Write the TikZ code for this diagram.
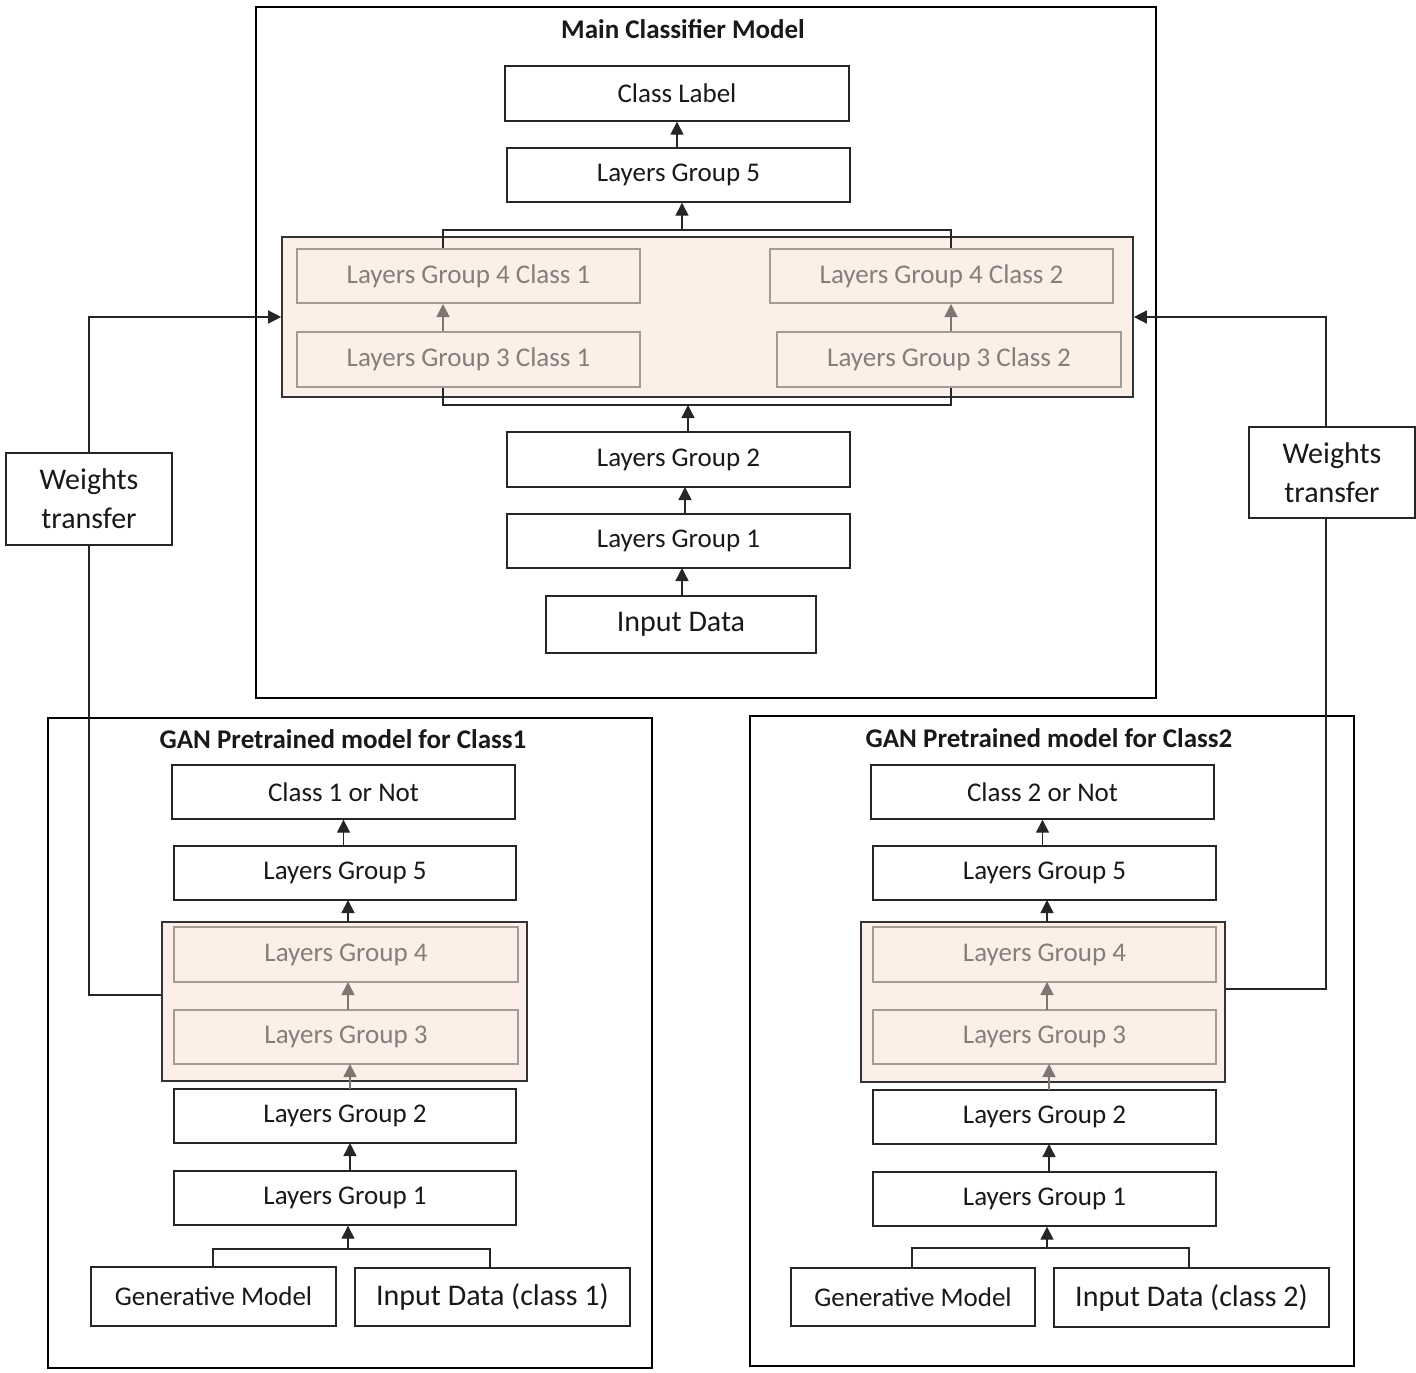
\documentclass[tikz,border=0pt]{standalone}
\usepackage{fontspec}
\setmainfont{Carlito}
\usetikzlibrary{arrows.meta,calc}
\definecolor{shade}{HTML}{FBEFE7}
\definecolor{grayline}{HTML}{A39B95}
\definecolor{graytext}{HTML}{857F7A}
\definecolor{grayarrow}{HTML}{7D7671}
\begin{document}
\begin{tikzpicture}[x=1pt,y=-1pt,
  frame/.style={draw=black,line width=2.4pt,inner sep=0pt},
  box/.style={draw=black!85,line width=1.4pt,fill=white,inner sep=0pt,font=\fontsize{27}{31}\selectfont,text=black!90},
  gbox/.style={draw=grayline,line width=2pt,fill=shade,inner sep=0pt,font=\fontsize{27}{31}\selectfont,text=graytext},
  shadebox/.style={draw=black!80,line width=1.6pt,fill=shade,inner sep=0pt},
  title/.style={font=\fontsize{27}{31}\selectfont\bfseries,text=black!90},
  bigtext/.style={font=\fontsize{30}{34}\selectfont},
  wbox/.style={draw=black!85,line width=1.4pt,fill=white,inner sep=0pt,align=center,font=\fontsize{30}{39}\selectfont,text=black!90},
  conn/.style={draw=black!85,line width=1.4pt},
  arr/.style={conn,-{Triangle[length=13pt,width=13pt]}},
  garr/.style={draw=grayarrow,line width=1.6pt,-{Triangle[length=13pt,width=13pt]}}
]
\useasboundingbox (0,0) rectangle (1416,1373);

% ---------------- Main classifier ----------------
\node[frame,minimum width=900,minimum height=691] (mainbox) at (706,352.5) {};
\node[title] (maintitle) at (683,29) {Main Classifier Model};
\node[box,minimum width=344,minimum height=55] (mcl) at (677,93.5) {Class Label};
\node[box,minimum width=343,minimum height=54] (mlg5) at (678.5,175) {Layers Group 5};
\node[shadebox,minimum width=851,minimum height=160] (mshade) at (707.5,317) {};
% brackets
\coordinate (mbt1) at (443,249);
\coordinate (mbt2) at (951,249);
\coordinate (mbtm) at (682,230);
\coordinate (mbb1) at (443,387);
\coordinate (mbb2) at (951,387);
\coordinate (mbbm) at (688,405);
\draw[conn] (mbt1) |- (mbtm) -| (mbt2);
\draw[conn] (mbb1) |- (mbbm) -| (mbb2);
\node[gbox,minimum width=343,minimum height=54] (m4c1) at (468.5,276) {Layers Group 4 Class 1};
\node[gbox,minimum width=343,minimum height=55] (m3c1) at (468.5,359.5) {Layers Group 3 Class 1};
\node[gbox,minimum width=343,minimum height=54] (m4c2) at (941.5,276) {Layers Group 4 Class 2};
\node[gbox,minimum width=344,minimum height=55] (m3c2) at (949,359.5) {Layers Group 3 Class 2};
\node[box,minimum width=343,minimum height=55] (mlg2) at (678.5,459.5) {Layers Group 2};
\node[box,minimum width=343,minimum height=54] (mlg1) at (678.5,541) {Layers Group 1};
\node[box,bigtext,minimum width=270,minimum height=57] (min) at (681,624.5) {Input Data};

\draw[arr] (mlg5.north -| mcl) -- (mcl.south);
\draw[arr] (mbtm) -- (mbtm |- mlg5.south);
\draw[garr] (mbt1 |- m3c1.north) -- (mbt1 |- m4c1.south);
\draw[garr] (mbt2 |- m3c2.north) -- (mbt2 |- m4c2.south);
\draw[arr] (mbbm |- mlg2.north) -- (mbbm);
\draw[arr] (685,514) -- (685,487);
\draw[arr] (682,596) -- (682,568);

% ---------------- GAN class 1 ----------------
\node[frame,minimum width=604,minimum height=650] (g1box) at (350,1043) {};
\node[title] (g1title) at (343,739) {GAN Pretrained model for Class1};
\node[box,minimum width=343,minimum height=54] (g1out) at (343.5,792) {Class 1 or Not};
\node[box,minimum width=342,minimum height=54] (g1lg5) at (345,873) {Layers Group 5};
\node[shadebox,minimum width=365,minimum height=159] (g1shade) at (344.5,1001.5) {};
\node[gbox,minimum width=344,minimum height=55] (g1lg4) at (346,954.5) {Layers Group 4};
\node[gbox,minimum width=344,minimum height=54] (g1lg3) at (346,1037) {Layers Group 3};
\node[box,minimum width=342,minimum height=54] (g1lg2) at (345,1116) {Layers Group 2};
\node[box,minimum width=342,minimum height=54] (g1lg1) at (345,1198) {Layers Group 1};
\node[box,minimum width=245,minimum height=59] (g1gen) at (213.5,1296.5) {Generative Model};
\node[box,bigtext,minimum width=275,minimum height=58] (g1in) at (492.5,1297) {Input Data (class 1)};
\coordinate (g1bm) at (348,1249);
\draw[conn] (213,1267) |- (g1bm) -| (490,1268);
\draw[arr] (g1bm) -- (g1bm |- g1lg1.south);
\draw[arr] (350,1171) -- (350,1143);
\draw[garr] (350,1089) -- (350,1064);
\draw[garr] (348,1010) -- (348,982);
\draw[arr] (348,922) -- (348,900);
\draw[arr] (g1lg5.north -| g1out) -- (g1out.south);

% ---------------- GAN class 2 ----------------
\node[frame,minimum width=604,minimum height=650] (g2box) at (1052,1041) {};
\node[title] (g2title) at (1049,738) {GAN Pretrained model for Class2};
\node[box,minimum width=343,minimum height=54] (g2out) at (1042.5,792) {Class 2 or Not};
\node[box,minimum width=343,minimum height=54] (g2lg5) at (1044.5,873) {Layers Group 5};
\node[shadebox,minimum width=364,minimum height=160] (g2shade) at (1043,1002) {};
\node[gbox,minimum width=343,minimum height=55] (g2lg4) at (1044.5,954.5) {Layers Group 4};
\node[gbox,minimum width=343,minimum height=54] (g2lg3) at (1044.5,1037) {Layers Group 3};
\node[box,minimum width=343,minimum height=54] (g2lg2) at (1044.5,1117) {Layers Group 2};
\node[box,minimum width=343,minimum height=54] (g2lg1) at (1044.5,1199) {Layers Group 1};
\node[box,minimum width=244,minimum height=58] (g2gen) at (913,1297) {Generative Model};
\node[box,bigtext,minimum width=275,minimum height=59] (g2in) at (1191.5,1297.5) {Input Data (class 2)};
\coordinate (g2bm) at (1047,1248);
\draw[conn] (912,1268) |- (g2bm) -| (1189,1268);
\draw[arr] (g2bm) -- (g2bm |- g2lg1.south);
\draw[arr] (1049,1172) -- (1049,1144);
\draw[garr] (1049,1090) -- (1049,1064);
\draw[garr] (1047,1010) -- (1047,982);
\draw[arr] (1047,922) -- (1047,900);
\draw[arr] (g2lg5.north -| g2out) -- (g2out.south);

% ---------------- Weights transfer ----------------
\node[wbox,minimum width=166,minimum height=92] (wl) at (89,499) {Weights\\transfer};
\node[wbox,minimum width=166,minimum height=91] (wr) at (1332,472.5) {Weights\\transfer};
\draw[arr] (wl.north) |- (mshade.west);
\draw[conn] (wl.south) |- ($(g1shade.west)+(0,-6.5)$);
\draw[arr] ([xshift=-6pt]wr.north) |- (mshade.east);
\draw[conn] ([xshift=-6pt]wr.south) |- ($(g2shade.east)+(0,-13)$);
\end{tikzpicture}
\end{document}
